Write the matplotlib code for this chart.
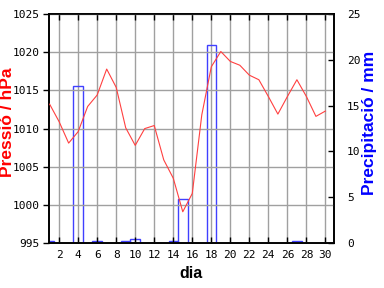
import matplotlib
matplotlib.use("Agg")
import matplotlib.pyplot as plt
import numpy as np

# daily values
days = np.arange(1, 31)
pressure = [1013.2, 1010.9, 1008.1, 1009.6, 1012.9, 1014.4, 1017.8, 1015.4, 1010.1, 1007.8,
            1010.0, 1010.4, 1005.9, 1003.5, 999.1, 1001.5, 1011.8, 1018.1, 1020.1, 1018.8,
            1018.3, 1017.0, 1016.4, 1014.2, 1011.9, 1014.2, 1016.4, 1014.2, 1011.6, 1012.3]
rain_days = [1, 4, 6, 9, 10, 14, 15, 18, 27]
rain_mm = [0.2, 17.2, 0.2, 0.2, 0.4, 0.2, 4.8, 21.6, 0.2]

x_ticks = np.arange(2, 31, 2)
p_ticks = np.arange(995, 1026, 5)
r_ticks = np.arange(0, 26, 5)

RED = "#ff4040"
BLUE = "#4040ff"
GRID = "#a0a0a0"
tick_font = dict(family="DejaVu Sans Mono", size=8)
label_font = dict(family="Liberation Sans", weight="bold", size=12.5)

fig = plt.figure(figsize=(3.84, 2.88), dpi=100)
ax = fig.add_axes([0.128, 0.156, 0.743, 0.795])
ax2 = ax.twinx()

ax.set_zorder(ax2.get_zorder() + 1)
ax.patch.set_visible(False)

ax.set_xlim(0.95, 30.95)
# vertical grid under the bars
for xv in x_ticks:
    ax2.axvline(xv, color=GRID, lw=1.0, zorder=0)

ax2.bar(rain_days, rain_mm, width=1.0, facecolor="none", edgecolor=BLUE,
        linewidth=1.0, zorder=2)
ax2.set_ylim(0, 25)
ax2.set_yticks(r_ticks)
ax2.set_yticklabels([str(v) for v in r_ticks], fontdict=tick_font)
ax2.tick_params(axis="y", direction="in", length=4, width=1, pad=9)

ax.plot(days, pressure, color=RED, lw=0.8, zorder=3)
ax.set_ylim(995, 1025)
ax.set_yticks(p_ticks)
ax.set_yticklabels([str(v) for v in p_ticks], fontdict=tick_font)
ax.set_xticks(x_ticks)
ax.set_xticklabels([str(v) for v in x_ticks], fontdict=tick_font)
ax.tick_params(axis="y", direction="out", length=4, width=1, pad=3)
ax.tick_params(axis="x", direction="in", length=4, width=1, top=True, pad=5)
ax.yaxis.grid(True, color=GRID, lw=1.0)

for a in (ax, ax2):
    for s in a.spines.values():
        s.set_linewidth(1.2)

fig.text(0.497, 0.034, "dia", color="black", ha="center", va="baseline",
         family="Liberation Sans", weight="bold", size=11.5)
fig.text(0.019, 0.576, "Pressió / hPa", color="red", rotation=90,
         ha="center", va="center", **label_font)
fig.text(0.962, 0.573, "Precipitació / mm", color="blue", rotation=90,
         ha="center", va="center", **label_font)

fig.savefig("out.png", dpi=100)
